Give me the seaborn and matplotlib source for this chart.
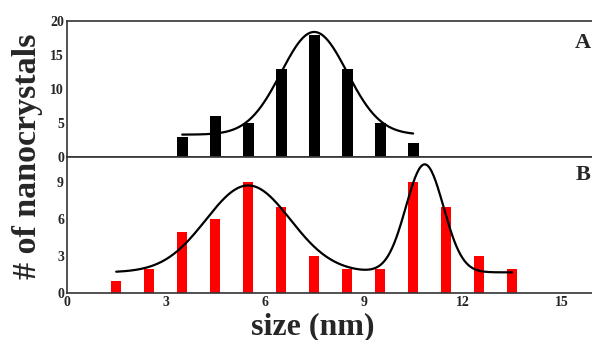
import numpy as np
import pandas as pd
import matplotlib
matplotlib.use("Agg")
import matplotlib.pyplot as plt
from matplotlib.ticker import MultipleLocator
import seaborn as sns

# Size histogram, sample A
sizes_a = [3.5, 4.5, 5.5, 6.5, 7.5, 8.5, 9.5, 10.5]
counts_a = [3, 6, 5, 13, 18, 13, 5, 2]

# Size histogram, sample B
sizes_b = [1.5, 2.5, 3.5, 4.5, 5.5, 6.5, 7.5, 8.5, 9.5, 10.5, 11.5, 12.5, 13.5]
counts_b = [1, 2, 5, 6, 9, 7, 3, 2, 2, 9, 7, 3, 2]

# Gaussian fit parameters: offset, then (center, amplitude, sigma) per peak
fit_a_offset = 3.3
fit_a_peaks = [(7.5, 15.1, 1.0)]
fit_b_offset = 1.7
fit_b_peaks = [(5.5, 7.05, 1.28), (10.85, 8.76, 0.57)]

x_ticks = [0, 3, 6, 9, 12, 15]
y_ticks_a = [0, 5, 10, 15, 20]
y_ticks_b = [0, 3, 6, 9]


def gauss_fit(x, offset, peaks):
    y = np.full_like(x, offset, dtype=float)
    for xc, amp, sig in peaks:
        y += amp * np.exp(-(x - xc) ** 2 / (2 * sig ** 2))
    return y


sns.set_theme(style="white")
plt.rcParams["font.family"] = ["Liberation Serif", "DejaVu Serif"]
plt.rcParams["font.weight"] = "bold"

fig = plt.figure(figsize=(5.92, 3.40), dpi=100)
ax_a = fig.add_axes([0.1127, 0.538, 0.8873, 0.400])
ax_b = fig.add_axes([0.1127, 0.1373, 0.8873, 0.4007], sharex=ax_a)

df_a = pd.DataFrame({"size": sizes_a, "count": counts_a})
df_b = pd.DataFrame({"size": sizes_b, "count": counts_b})

sns.barplot(data=df_a, x="size", y="count", native_scale=True, width=0.34,
            color="black", saturation=1, linewidth=0, ax=ax_a)
sns.barplot(data=df_b, x="size", y="count", native_scale=True, width=0.32,
            color="#ff0000", saturation=1, linewidth=0, ax=ax_b)

xa = np.linspace(sizes_a[0], sizes_a[-1], 300)
sns.lineplot(x=xa, y=gauss_fit(xa, fit_a_offset, fit_a_peaks), ax=ax_a,
             color="black", linewidth=1.6)
xb = np.linspace(sizes_b[0], sizes_b[-1], 400)
sns.lineplot(x=xb, y=gauss_fit(xb, fit_b_offset, fit_b_peaks), ax=ax_b,
             color="black", linewidth=1.6)

for ax in (ax_a, ax_b):
    ax.set_xlim(0, 15.92)
    ax.set_xticks(x_ticks)
    ax.xaxis.set_minor_locator(MultipleLocator(1.5))
    ax.tick_params(axis="both", which="both", direction="in", length=2,
                   width=0.8, color="#333333", labelsize=10, pad=2)
    ax.set_xlabel("")
    ax.set_ylabel("")
    for side in ("left", "bottom", "top"):
        ax.spines[side].set_color("#333333")
        ax.spines[side].set_linewidth(1.2)
    ax.spines["right"].set_visible(False)
    for lab in ax.get_xticklabels() + ax.get_yticklabels():
        lab.set_fontweight("bold")

ax_a.set_ylim(0, 20)
ax_a.set_yticks(y_ticks_a)
ax_a.tick_params(axis="x", labelbottom=False)
ax_b.set_ylim(0, 11.05)
ax_b.set_yticks(y_ticks_b)
ax_b.set_xticklabels([str(t) for t in x_ticks], fontweight="bold")

ax_a.text(0.998, 0.912, "A", transform=ax_a.transAxes, ha="right", va="top",
          fontsize=16, fontweight="bold")
ax_b.text(0.998, 0.94, "B", transform=ax_b.transAxes, ha="right", va="top",
          fontsize=16, fontweight="bold")

fig.text(0.047, 0.541, "# of nanocrystals", rotation=90, ha="center", va="center",
         fontsize=24.5, fontweight="bold")
fig.text(0.529, 0.040, "size (nm)", ha="center", va="center",
         fontsize=23, fontweight="bold")

fig.savefig("out.png", dpi=100)
